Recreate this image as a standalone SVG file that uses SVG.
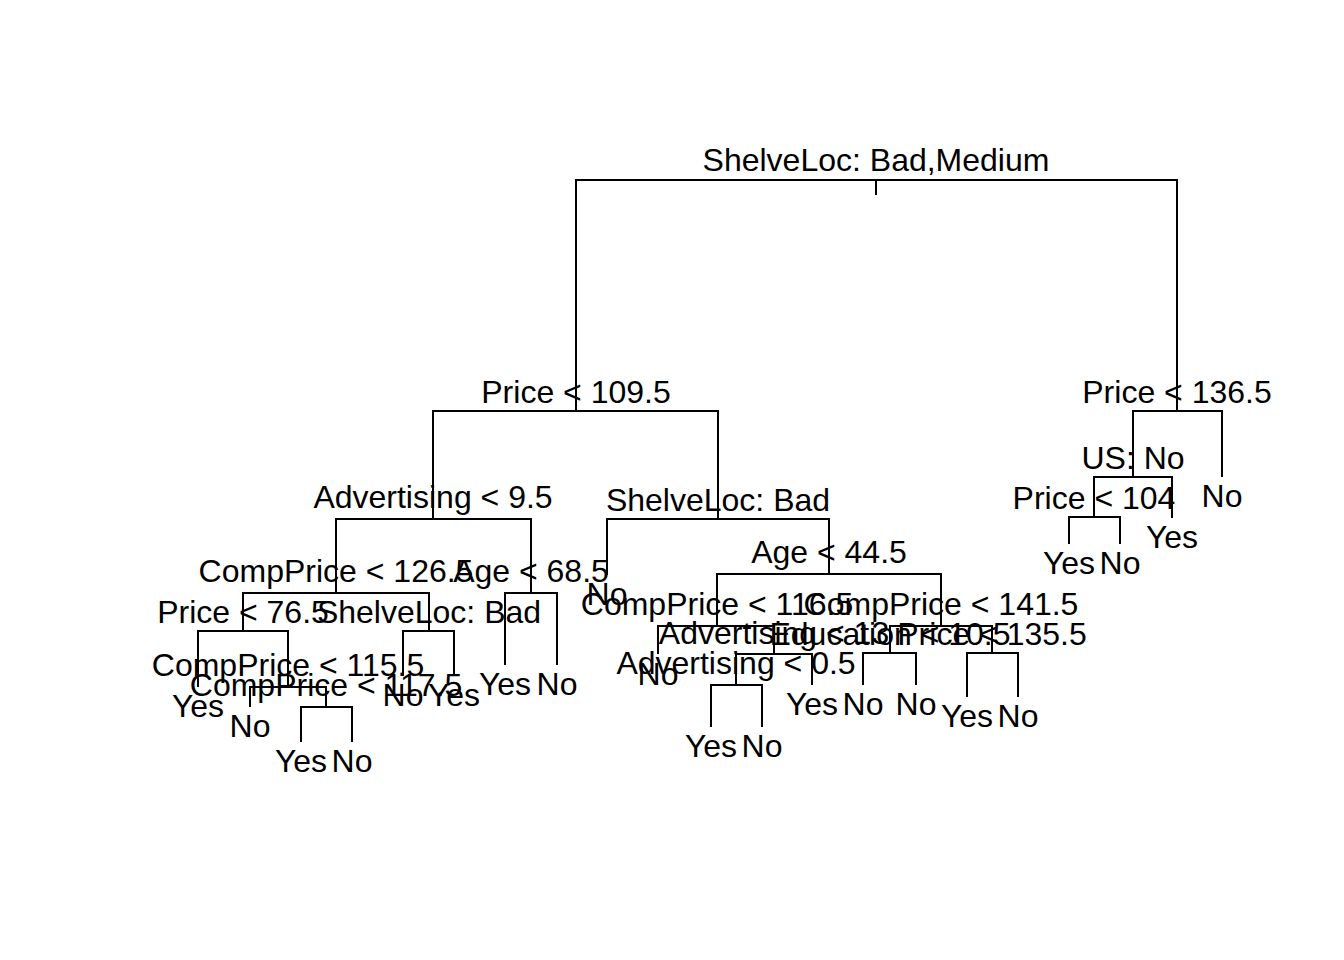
<svg xmlns="http://www.w3.org/2000/svg" width="1344" height="960" viewBox="0 0 1344 960">
<style>
text{font-family:"Liberation Sans",Arial,Helvetica,sans-serif;font-size:32px;fill:#000;text-anchor:middle}
.e{fill:none;stroke:#000;stroke-width:2;stroke-linecap:butt;stroke-linejoin:miter}
</style>
<rect width="1344" height="960" fill="#fff"/>
<g id="connectors">
<path class="e" d="M876,180V195"/>
<path class="e" d="M576,411V180H1177V411"/>
<path class="e" d="M433,519V411H718V519"/>
<path class="e" d="M1133,477V411H1222V477"/>
<path class="e" d="M1094,517V477H1172V518"/>
<path class="e" d="M1069,544V517H1120V544"/>
<path class="e" d="M336,593V519H531V593"/>
<path class="e" d="M607,575V519H829V574"/>
<path class="e" d="M243,631V593H429V631"/>
<path class="e" d="M505,665V593H557V665"/>
<path class="e" d="M198,687V631H288V687"/>
<path class="e" d="M250,707V687H326V707"/>
<path class="e" d="M301,742V707H352V742"/>
<path class="e" d="M403,676V631H454V676"/>
<path class="e" d="M717,626V574H941V626"/>
<path class="e" d="M658,654V626H774V654"/>
<path class="e" d="M736,685V654H812V685"/>
<path class="e" d="M711,727V685H762V727"/>
<path class="e" d="M890,653V626H992V653"/>
<path class="e" d="M863,685V653H916V685"/>
<path class="e" d="M967,697V653H1018V697"/>
</g>
<g id="n-root"><text x="876" y="171">ShelveLoc: Bad,Medium</text></g>
<g id="n-price1095"><text x="576" y="403">Price &lt; 109.5</text></g>
<g id="n-price1365"><text x="1177" y="403">Price &lt; 136.5</text></g>
<g id="n-us"><text x="1133" y="469">US: No</text></g>
<g id="n-price104"><text x="1094" y="509">Price &lt; 104</text></g>
<g id="n-adv95"><text x="433" y="508">Advertising &lt; 9.5</text></g>
<g id="n-shelvebad1"><text x="718" y="511">ShelveLoc: Bad</text></g>
<g id="n-comp1265"><text x="336" y="582">CompPrice &lt; 126.5</text></g>
<g id="n-age685"><text x="531" y="582">Age &lt; 68.5</text></g>
<g id="n-age445"><text x="829" y="563">Age &lt; 44.5</text></g>
<g id="n-price765"><text x="243" y="623">Price &lt; 76.5</text></g>
<g id="n-shelvebad2"><text x="429" y="623">ShelveLoc: Bad</text></g>
<g id="n-comp1155"><text x="288" y="676">CompPrice &lt; 115.5</text></g>
<g id="n-comp1175"><text x="326" y="696">CompPrice &lt; 117.5</text></g>
<g id="n-comp1165"><text x="717" y="615">CompPrice &lt; 116.5</text></g>
<g id="n-comp1415"><text x="941" y="615">CompPrice &lt; 141.5</text></g>
<g id="n-adv13"><text x="774" y="644">Advertising &lt; 13</text></g>
<g id="n-edu105"><text x="890" y="645">Education &lt; 10.5</text></g>
<g id="n-price1355"><text x="992" y="645">Price &lt; 135.5</text></g>
<g id="n-adv05"><text x="736" y="674">Advertising &lt; 0.5</text></g>
<g id="leaf-1"><text x="1069" y="574">Yes</text></g>
<g id="leaf-2"><text x="1120" y="574">No</text></g>
<g id="leaf-3"><text x="1172" y="548">Yes</text></g>
<g id="leaf-4"><text x="1222" y="507">No</text></g>
<g id="leaf-5"><text x="607" y="605">No</text></g>
<g id="leaf-6"><text x="505" y="695">Yes</text></g>
<g id="leaf-7"><text x="557" y="695">No</text></g>
<g id="leaf-8"><text x="198" y="717">Yes</text></g>
<g id="leaf-9"><text x="250" y="737">No</text></g>
<g id="leaf-10"><text x="301" y="772">Yes</text></g>
<g id="leaf-11"><text x="352" y="772">No</text></g>
<g id="leaf-12"><text x="403" y="706">No</text></g>
<g id="leaf-13"><text x="454" y="706">Yes</text></g>
<g id="leaf-14"><text x="658" y="685">No</text></g>
<g id="leaf-15"><text x="711" y="757">Yes</text></g>
<g id="leaf-16"><text x="762" y="757">No</text></g>
<g id="leaf-17"><text x="812" y="715">Yes</text></g>
<g id="leaf-18"><text x="863" y="715">No</text></g>
<g id="leaf-19"><text x="916" y="715">No</text></g>
<g id="leaf-20"><text x="967" y="727">Yes</text></g>
<g id="leaf-21"><text x="1018" y="727">No</text></g>
</svg>
